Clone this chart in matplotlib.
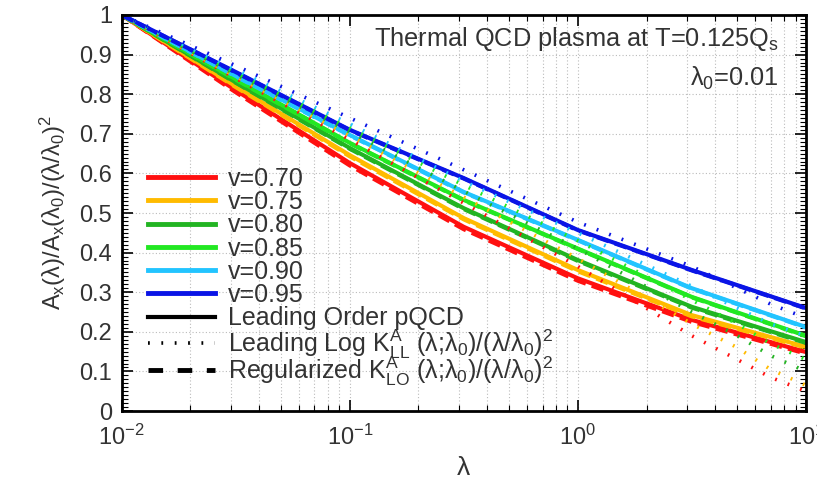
import matplotlib
matplotlib.use("Agg")
import matplotlib.pyplot as plt
import numpy as np
from matplotlib.ticker import LogLocator, FixedLocator
from matplotlib.lines import Line2D

plt.rcParams['font.family'] = ['Liberation Sans', 'DejaVu Sans']
plt.rcParams['mathtext.fontset'] = 'custom'
plt.rcParams['mathtext.rm'] = 'Liberation Sans'
plt.rcParams['mathtext.it'] = 'Liberation Sans'

# ---- data ----
velocities = ["v=0.70", "v=0.75", "v=0.80", "v=0.85", "v=0.90", "v=0.95"]
colors = ["#ff1010", "#ffbb00", "#22b422", "#22e822", "#22c4ff", "#0a14e6"]

lam_solid = [0.01, 0.0316, 0.1, 0.316, 1.0, 3.16, 10.0]
solid_070 = [1.0, 0.810, 0.626, 0.465, 0.335, 0.230, 0.149]
solid_075 = [1.0, 0.820, 0.646, 0.487, 0.356, 0.242, 0.162]
solid_080 = [1.0, 0.830, 0.664, 0.512, 0.381, 0.263, 0.174]
solid_085 = [1.0, 0.838, 0.677, 0.533, 0.410, 0.288, 0.190]
solid_090 = [1.0, 0.846, 0.697, 0.553, 0.432, 0.310, 0.212]
solid_095 = [1.0, 0.856, 0.710, 0.588, 0.457, 0.356, 0.260]

reg_070 = [1.0, 0.805, 0.620, 0.459, 0.329, 0.225, 0.145]
reg_075 = [1.0, 0.818, 0.643, 0.484, 0.353, 0.239, 0.160]
reg_080 = [1.0, 0.829, 0.662, 0.510, 0.379, 0.261, 0.172]
reg_085 = [1.0, 0.837, 0.676, 0.532, 0.409, 0.287, 0.189]
reg_090 = [1.0, 0.845, 0.696, 0.552, 0.431, 0.309, 0.211]
reg_095 = [1.0, 0.855, 0.709, 0.587, 0.456, 0.355, 0.259]

lam_ll = [0.01, 0.0316, 0.1, 0.316, 1.0, 3.16, 5.0, 7.0, 10.0]
ll_070 = [1.0, 0.840, 0.685, 0.525, 0.365, 0.190, 0.130, 0.085, 0.050]
ll_075 = [1.0, 0.845, 0.695, 0.540, 0.385, 0.220, 0.160, 0.105, 0.065]
ll_080 = [1.0, 0.850, 0.705, 0.555, 0.410, 0.250, 0.190, 0.140, 0.100]
ll_085 = [1.0, 0.855, 0.715, 0.570, 0.430, 0.280, 0.220, 0.170, 0.130]
ll_090 = [1.0, 0.862, 0.725, 0.580, 0.450, 0.315, 0.260, 0.220, 0.190]
ll_095 = [1.0, 0.872, 0.740, 0.609, 0.477, 0.365, 0.310, 0.270, 0.235]

y_ticks = [0, 0.1, 0.2, 0.3, 0.4, 0.5, 0.6, 0.7, 0.8, 0.9, 1.0]
y_tick_labels = ['0', '0.1', '0.2', '0.3', '0.4', '0.5', '0.6', '0.7', '0.8', '0.9', '1']
x_ticks = [0.01, 0.1, 1, 10]
x_tick_labels = [r'10$^{\mathregular{-2}}$', r'10$^{\mathregular{-1}}$',
                 r'10$^{\mathregular{0}}$', r'10$^{\mathregular{1}}$']

solids = [solid_070, solid_075, solid_080, solid_085, solid_090, solid_095]
regs = [reg_070, reg_075, reg_080, reg_085, reg_090, reg_095]
lls = [ll_070, ll_075, ll_080, ll_085, ll_090, ll_095]

fig = plt.figure(figsize=(8.17, 4.83), dpi=100)
ax = fig.add_axes([0.149, 0.149, 0.8375, 0.820])

dotted = (0, (0.5, 3.2))
dashed = (0, (3.0, 1.5))

for c, s, r in zip(colors, solids, regs):
    ax.plot(lam_solid, r, color=c, lw=3.0, linestyle=dashed)
    ax.plot(lam_solid, s, color=c, lw=3.0)
for c, l in zip(colors, lls):
    ax.plot(lam_ll, l, color=c, lw=2.6, linestyle=dotted, dash_capstyle='butt')

ax.set_xscale('log')
ax.set_xlim(0.01, 10)
ax.set_ylim(0, 1)

ax.xaxis.set_major_locator(FixedLocator(x_ticks))
ax.xaxis.set_minor_locator(LogLocator(base=10, subs=np.arange(2, 10)))
ax.set_xticklabels(x_tick_labels)
ax.yaxis.set_major_locator(FixedLocator(y_ticks))
ax.yaxis.set_minor_locator(FixedLocator(np.arange(0, 1.001, 0.01)))
ax.set_yticklabels(y_tick_labels)

ax.tick_params(which='both', direction='in', top=True, right=True, labelsize=17, color='black',
               labelcolor='#333333')
ax.tick_params(which='major', length=8, width=1.2)
ax.tick_params(which='minor', length=4, width=0.8)
ax.tick_params(axis='x', pad=10)
ax.tick_params(axis='y', pad=7)

ax.grid(True, which='major', axis='y', color='#bbbbbb', linestyle=(0, (1, 2)), lw=0.8)
ax.grid(True, which='both', axis='x', color='#bbbbbb', linestyle=(0, (1, 2)), lw=0.8)
for sp in ax.spines.values():
    sp.set_linewidth(2)

ax.set_xlabel('λ', fontsize=19, labelpad=4, color='#333333')
ax.set_ylabel(r'A$_\mathregular{x}$(λ)/A$_\mathregular{x}$(λ$_\mathregular{0}$)/(λ/λ$_\mathregular{0}$)$^\mathregular{2}$',
              fontsize=17, labelpad=8, color='#333333')

ax.text(0.96, 0.94, r'Thermal QCD plasma at T=0.125Q$_\mathregular{s}$', transform=ax.transAxes,
        ha='right', va='center', fontsize=18.3, color='#333333')
ax.text(0.96, 0.84, r'λ$_\mathregular{0}$=0.01', transform=ax.transAxes,
        ha='right', va='center', fontsize=18.3, color='#333333')

handles1 = [Line2D([], [], color=c, lw=3.5) for c in colors]
handles1 += [Line2D([], [], color='black', lw=3.0)]
labels1 = velocities + ['Leading Order pQCD']
handles2 = [Line2D([], [], color='black', lw=2.6, linestyle=dotted),
            Line2D([], [], color='black', lw=3.5, linestyle=(0, (3, 3)))]
labels2 = [r'Leading Log K$^\mathregular{A}_\mathregular{LL}$ (λ;λ$_\mathregular{0}$)/(λ/λ$_\mathregular{0}$)$^\mathregular{2}$',
           r'Regularized K$^\mathregular{A}_\mathregular{LO}$ (λ;λ$_\mathregular{0}$)/(λ/λ$_\mathregular{0}$)$^\mathregular{2}$']

common = dict(frameon=False, fontsize=18, handlelength=2.68, handletextpad=0.52,
              borderaxespad=0, borderpad=0)
leg1 = ax.legend(handles1, labels1, loc='center left', bbox_to_anchor=(0.038, 0.41),
                 labelspacing=-0.03, **common)
for t in leg1.get_texts():
    t.set_color('#333333')
ax.add_artist(leg1)
leg2 = ax.legend(handles2, labels2, loc='center left', bbox_to_anchor=(0.038, 0.135),
                 labelspacing=-0.25, **common)
for t in leg2.get_texts():
    t.set_color('#333333')

fig.savefig('out.png', dpi=100)
